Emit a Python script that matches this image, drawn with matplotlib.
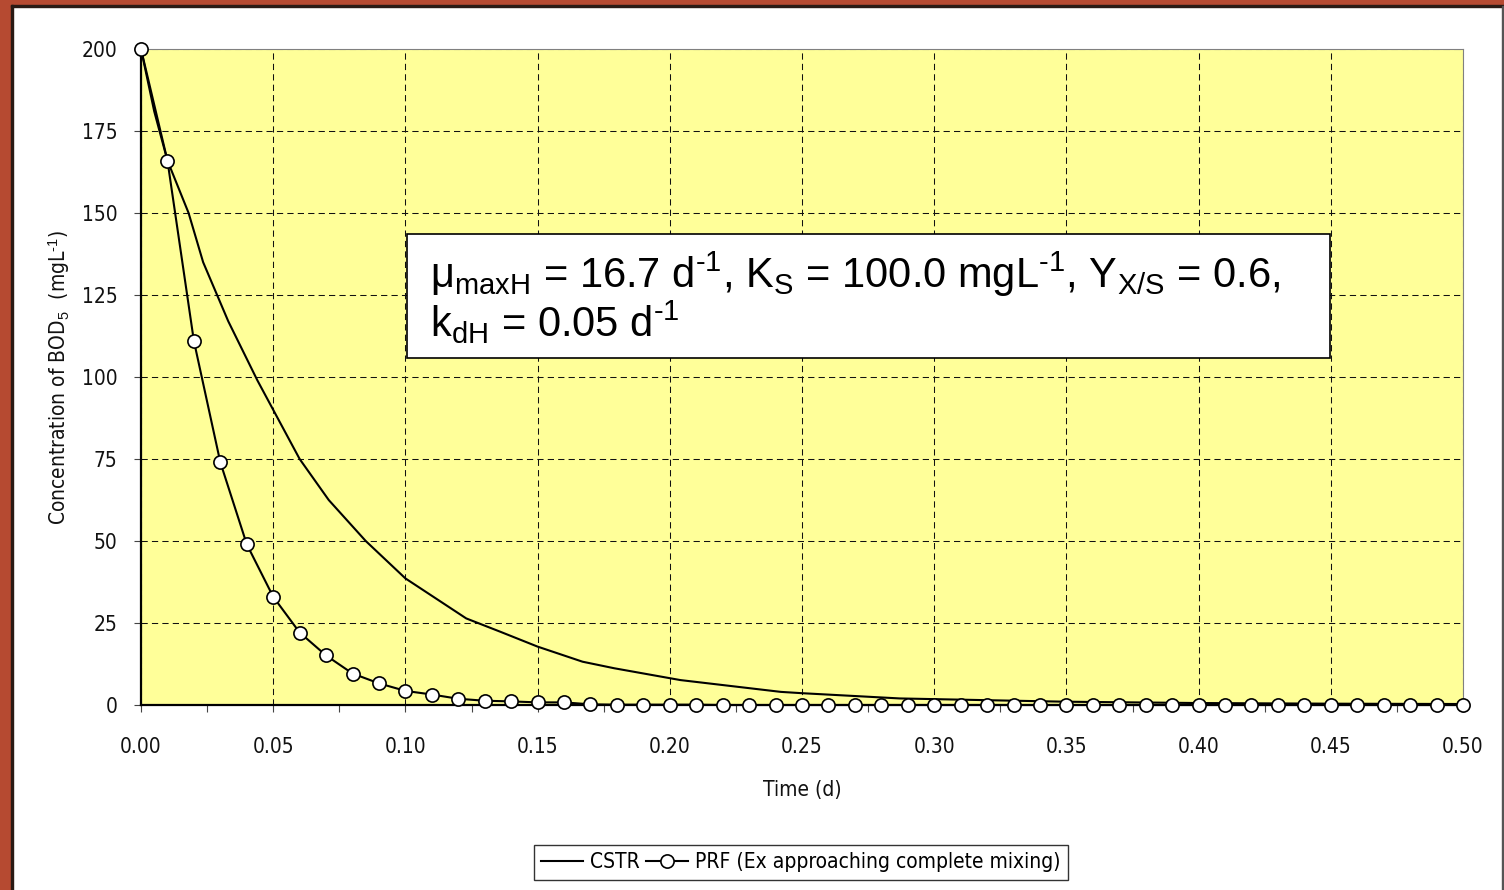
import numpy as np
import matplotlib
matplotlib.use("Agg")
import matplotlib.pyplot as plt
from matplotlib.patches import Rectangle
from matplotlib import font_manager

# CSTR curve
cstr_t = [0.0, 0.005, 0.010, 0.018, 0.0235, 0.033, 0.044, 0.050, 0.060, 0.071,
          0.085, 0.100, 0.123, 0.136, 0.150, 0.167, 0.179, 0.204, 0.242, 0.250,
          0.287, 0.318, 0.350, 0.400, 0.450, 0.500]
cstr_s = [200, 181, 166, 150, 135, 117, 99, 90, 75, 62.5,
          50, 38.6, 26.4, 22.3, 17.8, 13.2, 11.2, 7.6, 4.0, 3.6,
          2.0, 1.5, 1.0, 0.6, 0.4, 0.3]

# PRF points, one every 0.01 d
prf_t = [0.00, 0.01, 0.02, 0.03, 0.04, 0.05, 0.06, 0.07, 0.08, 0.09,
         0.10, 0.11, 0.12, 0.13, 0.14, 0.15, 0.16, 0.17, 0.18, 0.19,
         0.20, 0.21, 0.22, 0.23, 0.24, 0.25, 0.26, 0.27, 0.28, 0.29,
         0.30, 0.31, 0.32, 0.33, 0.34, 0.35, 0.36, 0.37, 0.38, 0.39,
         0.40, 0.41, 0.42, 0.43, 0.44, 0.45, 0.46, 0.47, 0.48, 0.49, 0.50]
prf_s = [200, 166, 111, 74, 49, 33, 22.1, 15.1, 9.6, 6.6,
         4.3, 3.2, 1.9, 1.3, 1.1, 0.8, 0.8, 0.2, 0.1, 0.1,
         0.1, 0.1, 0.0, 0.0, 0.0, 0.0, 0.0, 0.0, 0.0, 0.0,
         0.0, 0.0, 0.0, 0.0, 0.0, 0.0, 0.0, 0.0, 0.0, 0.0,
         0.0, 0.0, 0.0, 0.0, 0.0, 0.0, 0.0, 0.0, 0.0, 0.0, 0.0]

x_major = [0.00, 0.05, 0.10, 0.15, 0.20, 0.25, 0.30, 0.35, 0.40, 0.45, 0.50]
y_major = [0, 25, 50, 75, 100, 125, 150, 175, 200]

# narrow face if one is installed, else plain Liberation Sans a bit smaller
names = set(f.name for f in font_manager.fontManager.ttflist)
condensed = [f for f in font_manager.fontManager.ttflist
             if f.name == 'DejaVu Sans' and 'ondensed' in f.fname]
if 'Liberation Sans Narrow' in names:
    plt.rcParams['font.family'] = ['Liberation Sans Narrow', 'DejaVu Sans']
    fs = 17
elif condensed:
    plt.rcParams['font.family'] = ['DejaVu Sans']
    plt.rcParams['font.stretch'] = 'condensed'
    fs = 15
else:
    plt.rcParams['font.family'] = ['Liberation Sans', 'DejaVu Sans']
    fs = 15
plt.rcParams['mathtext.fontset'] = 'custom'
plt.rcParams['mathtext.rm'] = 'Liberation Sans'
plt.rcParams['mathtext.it'] = 'Liberation Sans:italic'

W, H = 1504, 890
fig = plt.figure(figsize=(W / 100, H / 100), dpi=100, facecolor='white')

# frame around the picture
brown = '#B64A31'
fig.patches.append(Rectangle((0, 0), 11 / W, 1, transform=fig.transFigure, color=brown, zorder=-5))
fig.patches.append(Rectangle((0, 1 - 5 / H), 1, 5 / H, transform=fig.transFigure, color=brown, zorder=-5))
fig.patches.append(Rectangle((11 / W, 0), 1.5 / W, 1 - 5 / H, transform=fig.transFigure, color='#2a1a14', zorder=-4))
fig.patches.append(Rectangle((11 / W, 1 - 6.5 / H), 1 - 11 / W, 1.5 / H, transform=fig.transFigure, color='#2a1a14', zorder=-4))
fig.patches.append(Rectangle((1 - 2.5 / W, 0), 2.5 / W, 1 - 6 / H, transform=fig.transFigure, color='#555555', zorder=-4))

ax = fig.add_axes([141 / W, 1 - 705 / H, (1463 - 141) / W, (705 - 49) / H])
ax.set_facecolor('#FFFF99')

ax.plot(cstr_t, cstr_s, color='black', lw=1.5, label='CSTR', zorder=3)
ax.plot(prf_t, prf_s, color='black', lw=1.5, marker='o', markersize=9.5,
        markerfacecolor='white', markeredgecolor='black', markeredgewidth=1.2,
        label='PRF (Ex approaching complete mixing)', zorder=4, clip_on=False)

ax.set_xlim(0, 0.5)
ax.set_ylim(0, 200)
ax.set_xticks(x_major)
ax.set_xticklabels(['%.2f' % v for v in x_major])
ax.set_xticks(np.arange(0.025, 0.5, 0.05), minor=True)
ax.set_yticks(y_major)

ax.grid(True, which='major', color='#111111', lw=0.75, linestyle=(0, (6, 4)), zorder=1)
ax.set_axisbelow(True)

for side in ['left', 'bottom']:
    ax.spines[side].set_linewidth(1.6)
    ax.spines[side].set_color('black')
for side in ['top', 'right']:
    ax.spines[side].set_linewidth(0.8)
    ax.spines[side].set_color('#808080')

ax.tick_params(axis='x', which='both', direction='out', length=5, width=0.8, color='#444444',
               labelsize=fs, pad=18, labelcolor='#111111')
ax.tick_params(axis='y', which='both', direction='out', length=5, width=0.8, color='#444444',
               labelsize=fs, pad=12, labelcolor='#111111')

ax.set_xlabel('Time (d)', fontsize=fs, color='#111111')
ax.xaxis.set_label_coords(0.5, (705 - 780) / 656)
ax.set_ylabel('Concentration of BOD$_{5}$  (mgL$^{\\text{-1}}$)', fontsize=fs, color='#111111')
ax.yaxis.set_label_coords((72 - 141) / 1322, 0.5)

# parameter box
ax.add_patch(Rectangle((0.2012, 0.529), 0.8994 - 0.2012, 0.718 - 0.529, transform=ax.transAxes,
                       facecolor='white', edgecolor='black', lw=1.2, zorder=6))
ax.text(0.2186, 0.6357,
        'μ$_{\\mathrm{maxH}}$ = 16.7 d$^{\\text{-1}}$, K$_{\\mathrm{S}}$ = 100.0 mgL$^{\\text{-1}}$, '
        'Y$_{\\mathrm{X/S}}$ = 0.6,',
        transform=ax.transAxes, fontsize=30, family=['Liberation Sans', 'DejaVu Sans'],
        stretch='normal', va='baseline', ha='left', zorder=7)
ax.text(0.2186, 0.5614, 'k$_{\\mathrm{dH}}$ = 0.05 d$^{\\text{-1}}$',
        transform=ax.transAxes, fontsize=30, family=['Liberation Sans', 'DejaVu Sans'],
        stretch='normal', va='baseline', ha='left', zorder=7)

leg = fig.legend(loc='center', bbox_to_anchor=((530 + 1072) / 2 / W, 1 - (839 + 886) / 2 / H),
                 ncol=2, fontsize=fs, frameon=True, fancybox=False, handlelength=2.0,
                 handletextpad=0.35, columnspacing=0.3, borderpad=0.35, numpoints=1)
leg.get_frame().set_edgecolor('black')
leg.get_frame().set_linewidth(1.0)

fig.savefig('out.png', dpi=100, facecolor=fig.get_facecolor())
